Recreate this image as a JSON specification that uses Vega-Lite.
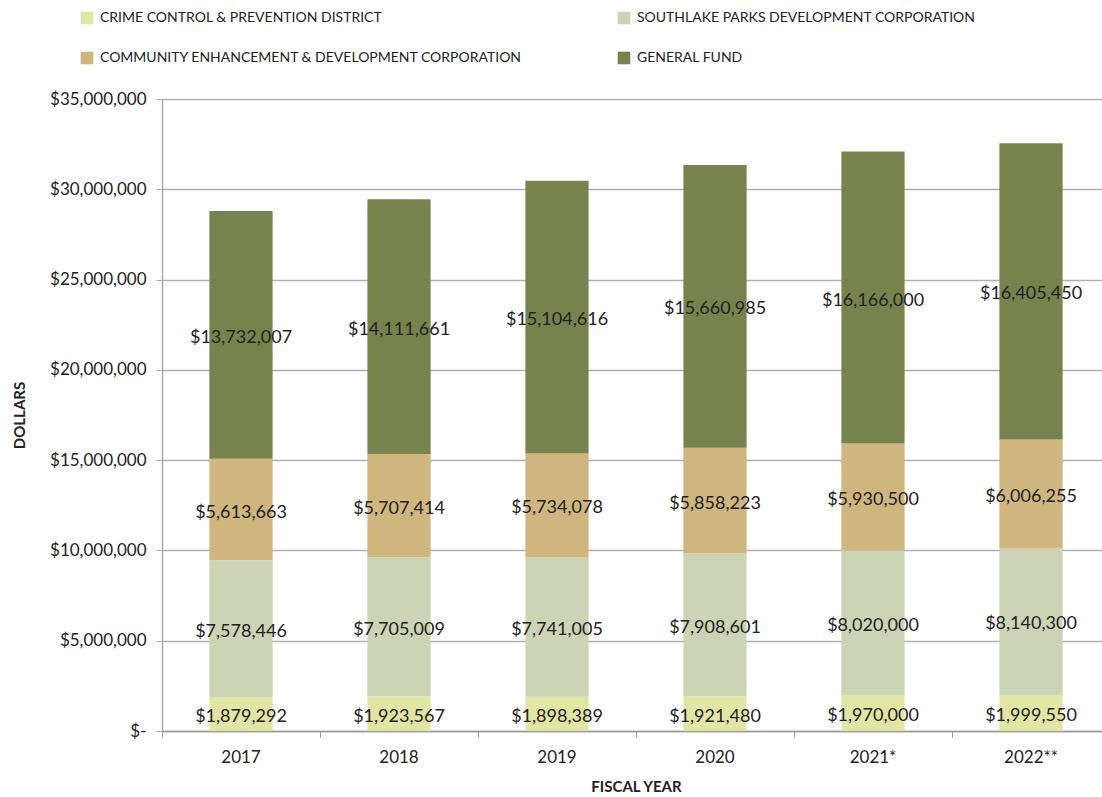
{
  "$schema": "https://vega.github.io/schema/vega-lite/v6.json",
  "autosize": "none",
  "width": 948,
  "height": 632,
  "padding": {"left": 162, "top": 99, "right": 0, "bottom": 66},
  "background": "white",
  "config": {"view": {"stroke": null}, "font": "Lato"},
  "data": {
    "values": [
      {"year": "2017", "fund": "Crime Control & Prevention District", "order": 1, "value": 1879292},
      {"year": "2017", "fund": "Southlake Parks Development Corporation", "order": 2, "value": 7578446},
      {"year": "2017", "fund": "Community Enhancement & Development Corporation", "order": 3, "value": 5613663},
      {"year": "2017", "fund": "General Fund", "order": 4, "value": 13732007},
      {"year": "2018", "fund": "Crime Control & Prevention District", "order": 1, "value": 1923567},
      {"year": "2018", "fund": "Southlake Parks Development Corporation", "order": 2, "value": 7705009},
      {"year": "2018", "fund": "Community Enhancement & Development Corporation", "order": 3, "value": 5707414},
      {"year": "2018", "fund": "General Fund", "order": 4, "value": 14111661},
      {"year": "2019", "fund": "Crime Control & Prevention District", "order": 1, "value": 1898389},
      {"year": "2019", "fund": "Southlake Parks Development Corporation", "order": 2, "value": 7741005},
      {"year": "2019", "fund": "Community Enhancement & Development Corporation", "order": 3, "value": 5734078},
      {"year": "2019", "fund": "General Fund", "order": 4, "value": 15104616},
      {"year": "2020", "fund": "Crime Control & Prevention District", "order": 1, "value": 1921480},
      {"year": "2020", "fund": "Southlake Parks Development Corporation", "order": 2, "value": 7908601},
      {"year": "2020", "fund": "Community Enhancement & Development Corporation", "order": 3, "value": 5858223},
      {"year": "2020", "fund": "General Fund", "order": 4, "value": 15660985},
      {"year": "2021*", "fund": "Crime Control & Prevention District", "order": 1, "value": 1970000},
      {"year": "2021*", "fund": "Southlake Parks Development Corporation", "order": 2, "value": 8020000},
      {"year": "2021*", "fund": "Community Enhancement & Development Corporation", "order": 3, "value": 5930500},
      {"year": "2021*", "fund": "General Fund", "order": 4, "value": 16166000},
      {"year": "2022**", "fund": "Crime Control & Prevention District", "order": 1, "value": 1999550},
      {"year": "2022**", "fund": "Southlake Parks Development Corporation", "order": 2, "value": 8140300},
      {"year": "2022**", "fund": "Community Enhancement & Development Corporation", "order": 3, "value": 6006255},
      {"year": "2022**", "fund": "General Fund", "order": 4, "value": 16405450}
    ]
  },
  "encoding": {
    "x": {
      "field": "year", "type": "nominal", "sort": null,
      "scale": {"paddingInner": 0, "paddingOuter": 0},
      "axis": {
        "title": "FISCAL YEAR", "titleFont": "Lato", "titleFontSize": 15, "titleFontWeight": "bold", "titleColor": "#222",
        "titlePadding": 14,
        "labelAngle": 0, "labelFontSize": 17, "labelColor": "#222", "labelPadding": 12,
        "bandPosition": 0, "tickSize": 6, "tickColor": "#999", "domainColor": "#999", "domainWidth": 1.5
      }
    }
  },
  "layer": [
    {
      "mark": {"type": "bar", "width": {"band": 0.4}},
      "encoding": {
        "y": {
          "field": "value", "type": "quantitative", "stack": "zero",
          "scale": {"domain": [0, 35000000], "nice": false},
          "axis": {
            "title": "DOLLARS", "titleFontSize": 15, "titleFontWeight": "bold", "titleColor": "#222", "titlePadding": 22,
            "values": [0, 5000000, 10000000, 15000000, 20000000, 25000000, 30000000, 35000000],
            "labelOverlap": false,
            "labelExpr": "datum.value == 0 ? '$-' : format(datum.value, '$,d')",
            "labelFontSize": 17, "labelColor": "#222", "labelPadding": 10,
            "tickSize": 6, "tickColor": "#aaa", "domainColor": "#aaa", "domainWidth": 1.5,
            "grid": true, "gridColor": "#b0b0b0", "gridWidth": 1.5
          }
        },
        "color": {
          "field": "fund", "type": "nominal",
          "scale": {
            "domain": ["Crime Control & Prevention District", "Southlake Parks Development Corporation", "Community Enhancement & Development Corporation", "General Fund"],
            "range": ["#e2e6a4", "#cdd4b6", "#cfb67e", "#77834d"]
          },
          "legend": {
            "title": null, "orient": "none", "legendX": -82, "legendY": -88,
            "direction": "horizontal", "columns": 2, "columnPadding": 94, "rowPadding": 26,
            "symbolType": "square", "symbolSize": 160, "symbolStrokeWidth": 0,
            "labelFontSize": 14, "labelColor": "#222", "labelLimit": 600, "labelOffset": 6,
            "labelExpr": "upper(datum.label)"
          }
        },
        "order": {"field": "order", "type": "quantitative"}
      }
    },
    {
      "mark": {"type": "text", "fontSize": 18, "color": "#222", "baseline": "middle", "dy": 3},
      "encoding": {
        "y": {"field": "value", "type": "quantitative", "stack": "zero", "bandPosition": 0.5},
        "text": {"field": "value", "type": "quantitative", "format": "$,d"},
        "order": {"field": "order", "type": "quantitative"}
      }
    }
  ]
}
